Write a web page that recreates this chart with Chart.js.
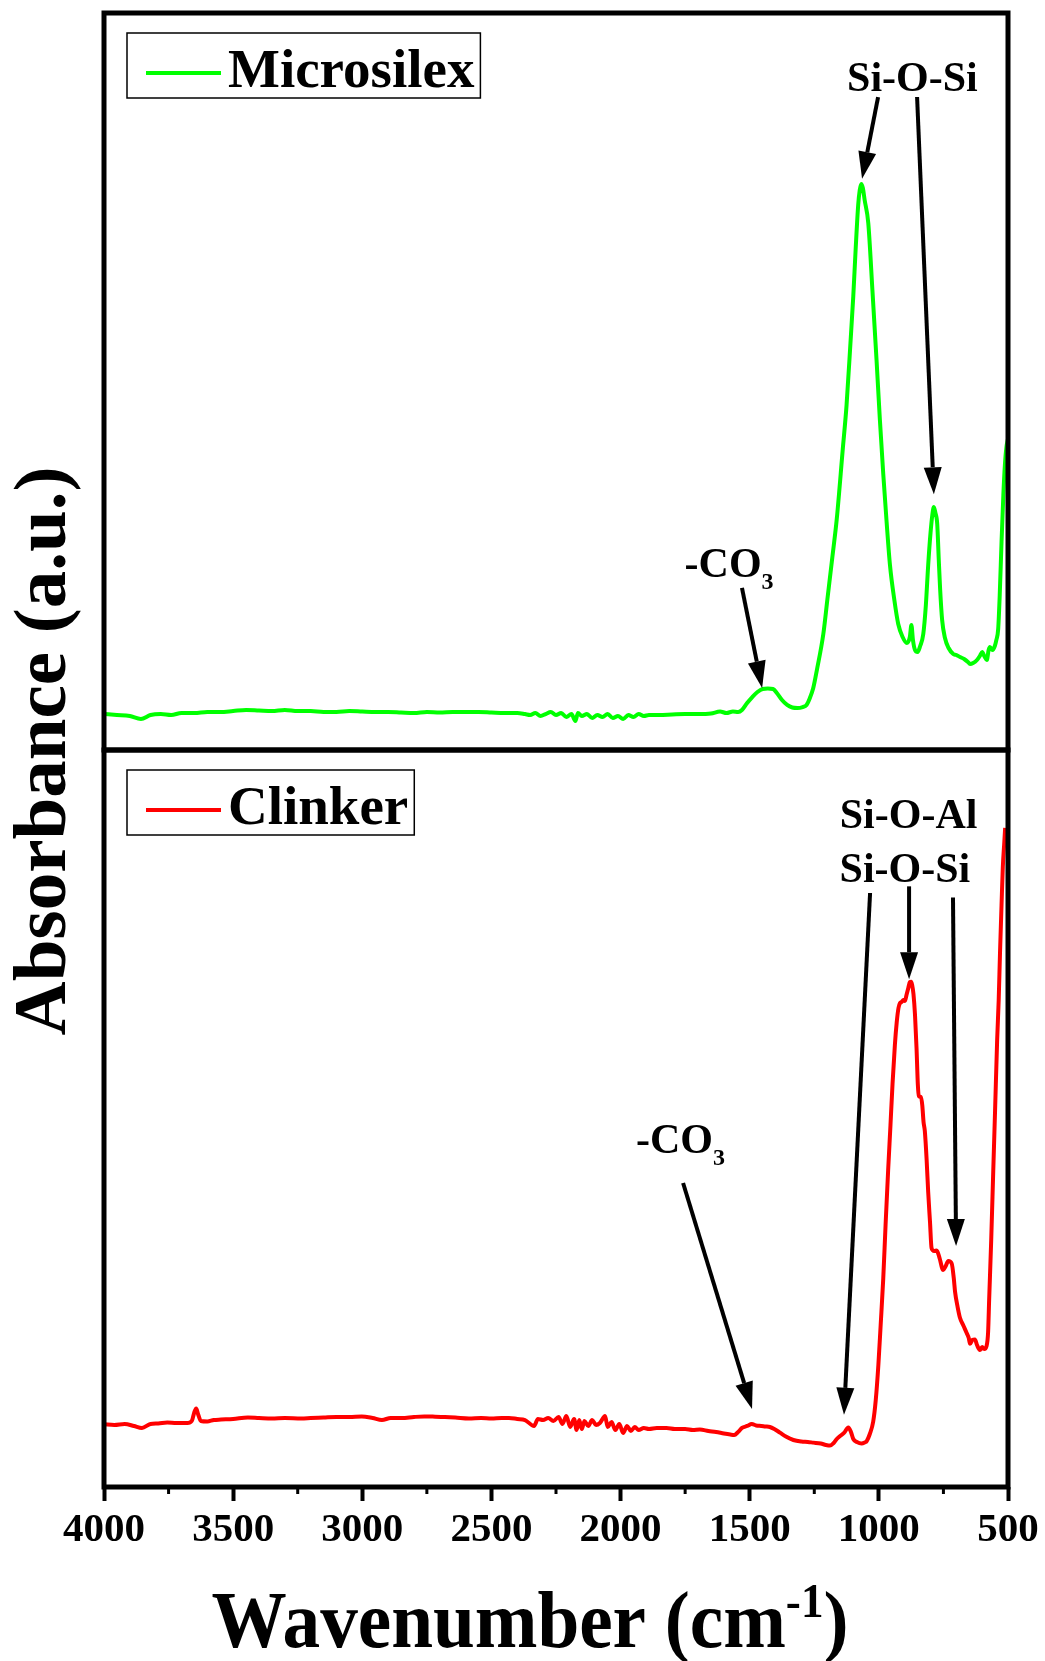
<!DOCTYPE html>
<html>
<head>
<meta charset="utf-8">
<title>FTIR spectra – Microsilex and Clinker</title>
<script src="https://cdn.jsdelivr.net/npm/chart.js@4/dist/chart.umd.min.js"></script>
<style>
  html, body { margin: 0; padding: 0; background: #ffffff; }
  #wrap { width: 1045px; height: 1661px; position: relative; }
  canvas { display: block; }
</style>
</head>
<body>
<div id="wrap"><canvas id="ftir" width="1045" height="1661"></canvas></div>
<script>
// ---------------- spectra (wavenumber in cm-1, absorbance in a.u.) ----------------
const microsilexWavenumber = [
  4000, 3950, 3900, 3857, 3820, 3780, 3740, 3700, 3650, 3600, 3550, 3500, 3450, 3400, 3350,
  3300, 3250, 3200, 3150, 3100, 3050, 3000, 2950, 2900, 2850, 2800, 2750, 2700, 2650, 2600,
  2550, 2500, 2450, 2400, 2370, 2350, 2330, 2310, 2290, 2270, 2250, 2230, 2210, 2190, 2175,
  2165, 2150, 2130, 2110, 2090, 2070, 2050, 2030, 2010, 1990, 1970, 1950, 1930, 1910, 1890,
  1850, 1800, 1750, 1700, 1650, 1615, 1590, 1565, 1545, 1530, 1510, 1490, 1470, 1450, 1430,
  1410, 1395, 1375, 1355, 1335, 1315, 1295, 1280, 1267, 1254, 1240, 1215, 1200, 1180, 1163,
  1140, 1125, 1110, 1099, 1090, 1080, 1074, 1068, 1062, 1055, 1041, 1025, 1009, 996, 983,
  970, 957, 940, 925, 908, 892, 880, 874, 868, 860, 850, 840, 828, 818, 809,
  800, 793, 787, 781, 774, 768, 763, 755, 744, 730, 712, 700, 686, 670, 655,
  647, 635, 620, 609, 600, 592, 582, 575, 570, 560, 551, 545, 538, 532, 525,
  518, 512, 506, 500
];
const microsilexAbsorbance = [
  0.0488, 0.0475, 0.0461, 0.0421, 0.0475, 0.0488, 0.0475, 0.0502, 0.0502, 0.0516, 0.0516, 0.0529, 0.0543, 0.0536, 0.0529,
  0.0543, 0.0529, 0.0529, 0.0516, 0.0516, 0.0529, 0.0522, 0.0516, 0.0516, 0.0509, 0.0502, 0.0516, 0.0509, 0.0516, 0.0516,
  0.0516, 0.0509, 0.0502, 0.0502, 0.0488, 0.0475, 0.0502, 0.0461, 0.0488, 0.0516, 0.0475, 0.0502, 0.0448, 0.0488, 0.0393,
  0.0502, 0.0461, 0.0488, 0.0434, 0.0475, 0.0448, 0.0488, 0.0434, 0.0461, 0.0421, 0.0475, 0.0448, 0.0488, 0.0461, 0.0475,
  0.0475, 0.0482, 0.0488, 0.0488, 0.0495, 0.0522, 0.0502, 0.0522, 0.0516, 0.0543, 0.0638, 0.0719, 0.0787, 0.0828, 0.0834,
  0.0828, 0.0773, 0.0678, 0.0611, 0.0577, 0.0570, 0.0583, 0.0611, 0.0706, 0.0841, 0.1085, 0.1574, 0.2022, 0.2619, 0.3134,
  0.4071, 0.4681, 0.5522, 0.6160, 0.6784, 0.7395, 0.7598, 0.7680, 0.7626, 0.7463, 0.7151, 0.6242, 0.5292, 0.4478, 0.3745,
  0.3094, 0.2510, 0.2035, 0.1710, 0.1533, 0.1452, 0.1533, 0.1696, 0.1493, 0.1357, 0.1330, 0.1411, 0.1574, 0.1967, 0.2510,
  0.2944, 0.3189, 0.3297, 0.3216, 0.3066, 0.2578, 0.2198, 0.1764, 0.1520, 0.1384, 0.1303, 0.1289, 0.1262, 0.1235, 0.1194,
  0.1167, 0.1180, 0.1221, 0.1275, 0.1330, 0.1275, 0.1221, 0.1357, 0.1398, 0.1357, 0.1411, 0.1493, 0.1642, 0.2103, 0.2822,
  0.3460, 0.3867, 0.4111, 0.4220
];

const clinkerWavenumber = [
  4000, 3960, 3920, 3884, 3853, 3820, 3790, 3755, 3720, 3677, 3660, 3650, 3643, 3636, 3625,
  3600, 3575, 3547, 3500, 3443, 3400, 3350, 3300, 3236, 3200, 3150, 3100, 3050, 3002, 2960,
  2924, 2890, 2847, 2800, 2760, 2718, 2680, 2640, 2587, 2540, 2500, 2460, 2432, 2400, 2370,
  2335, 2320, 2300, 2280, 2260, 2240, 2225, 2210, 2195, 2180, 2170, 2160, 2150, 2140, 2125,
  2110, 2095, 2080, 2060, 2050, 2035, 2020, 2005, 1990, 1975, 1960, 1945, 1930, 1910, 1890,
  1860, 1822, 1790, 1750, 1720, 1693, 1660, 1630, 1600, 1575, 1560, 1545, 1530, 1510, 1492,
  1475, 1455, 1440, 1422, 1405, 1383, 1360, 1331, 1300, 1275, 1254, 1225, 1205, 1189, 1175,
  1163, 1150, 1135, 1118, 1108, 1099, 1085, 1067, 1055, 1047, 1035, 1022, 1012, 1002, 993,
  983, 974, 964, 955, 947, 938, 931, 924, 918, 912, 905, 899, 893, 886, 880,
  875, 871, 866, 860, 854, 849, 845, 838, 832, 827, 822, 815, 809, 802, 796,
  786, 776, 765, 751, 741, 731, 718, 710, 705, 695, 686, 672, 660, 652, 647,
  638, 628, 620, 609, 600, 592, 583, 577, 573, 565, 557, 550, 542, 536, 531,
  525, 520, 515, 511
];
const clinkerAbsorbance = [
  0.0851, 0.0841, 0.0855, 0.0828, 0.0801, 0.0855, 0.0862, 0.0875, 0.0868, 0.0868, 0.0896, 0.1018, 0.1065, 0.0991, 0.0896,
  0.0889, 0.0909, 0.0915, 0.0923, 0.0943, 0.0936, 0.0929, 0.0936, 0.0931, 0.0936, 0.0943, 0.0950, 0.0950, 0.0957, 0.0936,
  0.0909, 0.0936, 0.0936, 0.0950, 0.0957, 0.0954, 0.0950, 0.0943, 0.0931, 0.0936, 0.0929, 0.0936, 0.0936, 0.0923, 0.0909,
  0.0828, 0.0923, 0.0909, 0.0936, 0.0896, 0.0950, 0.0855, 0.0963, 0.0814, 0.0923, 0.0773, 0.0909, 0.0787, 0.0896, 0.0828,
  0.0909, 0.0841, 0.0868, 0.0963, 0.0814, 0.0882, 0.0773, 0.0855, 0.0733, 0.0828, 0.0760, 0.0814, 0.0773, 0.0801, 0.0787,
  0.0801, 0.0801, 0.0787, 0.0787, 0.0773, 0.0779, 0.0760, 0.0746, 0.0726, 0.0712, 0.0706, 0.0746, 0.0801, 0.0828, 0.0855,
  0.0834, 0.0828, 0.0821, 0.0814, 0.0787, 0.0738, 0.0685, 0.0638, 0.0617, 0.0611, 0.0602, 0.0590, 0.0570, 0.0562, 0.0597,
  0.0651, 0.0692, 0.0733, 0.0809, 0.0746, 0.0651, 0.0611, 0.0590, 0.0604, 0.0624, 0.0719, 0.0885, 0.1180, 0.1650, 0.2198,
  0.2826, 0.3555, 0.4301, 0.4912, 0.5474, 0.5997, 0.6299, 0.6499, 0.6567, 0.6581, 0.6608, 0.6594, 0.6676, 0.6771, 0.6852,
  0.6857, 0.6811, 0.6689, 0.6404, 0.5943, 0.5455, 0.5305, 0.5292, 0.5183, 0.4953, 0.4830, 0.4437, 0.4003, 0.3596, 0.3243,
  0.3202, 0.3209, 0.3107, 0.2944, 0.2999, 0.3066, 0.3033, 0.2836, 0.2650, 0.2442, 0.2297, 0.2185, 0.2090, 0.2022, 0.1943,
  0.1995, 0.2003, 0.1927, 0.1859, 0.1900, 0.1872, 0.1913, 0.2103, 0.2537, 0.3351, 0.4301, 0.5115, 0.6065, 0.6608, 0.7239,
  0.7897, 0.8416, 0.8711, 0.8942
];

const wavenumberTicks = [4000, 3500, 3000, 2500, 2000, 1500, 1000, 500];
const wavenumberMinorTicks = [3750, 3250, 2750, 2250, 1750, 1250, 750];

// band assignments: label anchor (centre, baseline) and arrows, in wavenumber / a.u.
const microsilexBands = [
  { text: 'Si-O-Si', x: 870, y: 0.894 }
];
const microsilexCarbonate = [
  { text: '-CO', sub: '3', x: 1580, y: 0.235 }
];
const microsilexArrows = [
  { x1: 1003, y1: 0.886, x2: 1065, y2: 0.775 },
  { x1: 852, y1: 0.886, x2: 787, y2: 0.347 },
  { x1: 1530, y1: 0.220, x2: 1452, y2: 0.084 }
];
const clinkerBands = [
  { text: 'Si-O-Al', x: 885, y: 0.894 },
  { text: 'Si-O-Si', x: 899, y: 0.821 }
];
const clinkerCarbonate = [
  { text: '-CO', sub: '3', x: 1768, y: 0.453 }
];
const clinkerArrows = [
  { x1: 1034, y1: 0.806, x2: 1135, y2: 0.098 },
  { x1: 883, y1: 0.815, x2: 883, y2: 0.689 },
  { x1: 713, y1: 0.800, x2: 701, y2: 0.327 },
  { x1: 1758, y1: 0.4125, x2: 1491, y2: 0.106 }
];

// ---------------- drawing ----------------
const SERIF = "'Liberation Serif', 'Times New Roman', Times, serif";

function toPoints(xs, ys) {
  return xs.map((x, i) => ({ x: x, y: ys[i] }));
}

function drawArrow(ctx, x1, y1, x2, y2) {
  const headLen = 27, headHalf = 9;
  const ang = Math.atan2(y2 - y1, x2 - x1);
  const bx = x2 - headLen * Math.cos(ang);
  const by = y2 - headLen * Math.sin(ang);
  ctx.beginPath();
  ctx.moveTo(x1, y1);
  ctx.lineTo(bx, by);
  ctx.lineWidth = 4;
  ctx.lineCap = 'butt';
  ctx.stroke();
  ctx.beginPath();
  ctx.moveTo(x2, y2);
  ctx.lineTo(bx + headHalf * Math.sin(ang), by - headHalf * Math.cos(ang));
  ctx.lineTo(bx - headHalf * Math.sin(ang), by + headHalf * Math.cos(ang));
  ctx.closePath();
  ctx.fill();
}

function drawLabel(ctx, lbl, xs, ys) {
  const cx = xs.getPixelForValue(lbl.x);
  const by = ys.getPixelForValue(lbl.y);
  const mainFont = 'bold 42px ' + SERIF;
  const subFont = 'bold 24px ' + SERIF;
  ctx.font = mainFont;
  const wMain = ctx.measureText(lbl.text).width;
  let wSub = 0;
  if (lbl.sub) { ctx.font = subFont; wSub = ctx.measureText(lbl.sub).width; }
  const left = cx - (wMain + wSub) / 2;
  ctx.textAlign = 'left';
  ctx.textBaseline = 'alphabetic';
  ctx.font = mainFont;
  ctx.fillText(lbl.text, left, by);
  if (lbl.sub) {
    ctx.font = subFont;
    ctx.fillText(lbl.sub, left + wMain, by + 12);
  }
}

const panelDecor = {
  id: 'panelDecor',
  afterDraw(chart) {
    const { ctx, chartArea: area, scales } = chart;
    const xs = scales.x;
    ctx.save();
    ctx.strokeStyle = '#000';
    ctx.fillStyle = '#000';

    // minor ticks on the wavenumber axis
    ctx.lineWidth = 3;
    wavenumberMinorTicks.forEach(v => {
      const px = xs.getPixelForValue(v);
      ctx.beginPath();
      ctx.moveTo(px, area.bottom);
      ctx.lineTo(px, area.bottom + 7);
      ctx.stroke();
    });

    // panel frames
    ['microsilexY', 'clinkerY'].forEach(id => {
      const s = scales[id];
      ctx.lineWidth = 5;
      ctx.strokeRect(area.left, s.top, area.right - area.left, s.bottom - s.top);
    });

    // legends, one per panel
    chart.data.datasets.forEach(ds => {
      const s = scales[ds.yAxisID];
      const boxL = area.left + 23, boxT = s.top + 20, boxH = 65;
      ctx.font = 'bold 55px ' + SERIF;
      const tw = ctx.measureText(ds.label).width;
      const boxW = 101 + tw + 6;
      ctx.fillStyle = '#fff';
      ctx.fillRect(boxL, boxT, boxW, boxH);
      ctx.lineWidth = 1.5;
      ctx.strokeStyle = '#000';
      ctx.strokeRect(boxL, boxT, boxW, boxH);
      ctx.beginPath();
      ctx.moveTo(boxL + 19, boxT + 40);
      ctx.lineTo(boxL + 94, boxT + 40);
      ctx.strokeStyle = ds.borderColor;
      ctx.lineWidth = 4;
      ctx.stroke();
      ctx.fillStyle = '#000';
      ctx.textAlign = 'left';
      ctx.textBaseline = 'alphabetic';
      ctx.fillText(ds.label, boxL + 101, boxT + 54);
    });

    // band assignments
    ctx.strokeStyle = '#000';
    ctx.fillStyle = '#000';
    const yTop = scales.microsilexY, yBot = scales.clinkerY;
    microsilexBands.concat(microsilexCarbonate).forEach(l => drawLabel(ctx, l, xs, yTop));
    clinkerBands.concat(clinkerCarbonate).forEach(l => drawLabel(ctx, l, xs, yBot));
    microsilexArrows.forEach(a => drawArrow(ctx, xs.getPixelForValue(a.x1), yTop.getPixelForValue(a.y1),
                                             xs.getPixelForValue(a.x2), yTop.getPixelForValue(a.y2)));
    clinkerArrows.forEach(a => drawArrow(ctx, xs.getPixelForValue(a.x1), yBot.getPixelForValue(a.y1),
                                          xs.getPixelForValue(a.x2), yBot.getPixelForValue(a.y2)));

    // y axis title (rotated)
    ctx.save();
    ctx.translate(65, (yTop.top + yBot.bottom) / 2 + 1);
    ctx.rotate(-Math.PI / 2);
    ctx.font = 'bold 75px ' + SERIF;
    ctx.textAlign = 'center';
    ctx.textBaseline = 'alphabetic';
    ctx.fillText('Absorbance (a.u.)', 0, 0);
    ctx.restore();

    // x axis title with superscript
    const parts = [
      { t: 'Wavenumber (cm', font: 'bold 80px ' + SERIF, dy: 0 },
      { t: '-1', font: 'bold 48px ' + SERIF, dy: -30 },
      { t: ')', font: 'bold 80px ' + SERIF, dy: 0 }
    ];
    let total = 0;
    parts.forEach(p => { ctx.font = p.font; p.w = ctx.measureText(p.t).width; total += p.w; });
    const squeeze = 0.94;
    ctx.save();
    ctx.translate(530, 1647);
    ctx.scale(squeeze, 1);
    let cx = -total / 2;
    ctx.textAlign = 'left';
    parts.forEach(p => { ctx.font = p.font; ctx.fillText(p.t, cx, p.dy); cx += p.w; });
    ctx.restore();

    ctx.restore();
  }
};

Chart.defaults.font.family = SERIF;
Chart.defaults.color = '#000';

new Chart(document.getElementById('ftir'), {
  type: 'line',
  data: {
    datasets: [
      {
        label: 'Microsilex',
        data: toPoints(microsilexWavenumber, microsilexAbsorbance),
        yAxisID: 'microsilexY',
        borderColor: '#00ff00',
        borderWidth: 4,
        pointRadius: 0,
        cubicInterpolationMode: 'monotone',
        borderJoinStyle: 'round',
        fill: false
      },
      {
        label: 'Clinker',
        data: toPoints(clinkerWavenumber, clinkerAbsorbance),
        yAxisID: 'clinkerY',
        borderColor: '#ff0000',
        borderWidth: 4,
        pointRadius: 0,
        cubicInterpolationMode: 'monotone',
        borderJoinStyle: 'round',
        fill: false
      }
    ]
  },
  options: {
    responsive: false,
    animation: false,
    devicePixelRatio: 1,
    layout: { padding: { left: 104, right: 37, top: 13, bottom: 0 } },
    plugins: { legend: { display: false }, tooltip: { enabled: false } },
    scales: {
      x: {
        type: 'linear',
        position: 'bottom',
        min: 500,
        max: 4000,
        reverse: true,
        afterBuildTicks: s => { s.ticks = wavenumberTicks.map(v => ({ value: v })); },
        afterFit: s => { s.height = 174; },
        ticks: {
          callback: v => String(v),
          font: { size: 41, weight: 'bold', family: SERIF },
          color: '#000',
          padding: 5,
          maxRotation: 0,
          autoSkip: false
        },
        grid: { drawOnChartArea: false, drawTicks: true, tickLength: 14, tickWidth: 4, tickColor: '#000' },
        border: { display: false }
      },
      clinkerY: {
        type: 'linear',
        position: 'left',
        stack: 'panels',
        stackWeight: 1,
        min: 0,
        max: 1,
        afterFit: s => { s.width = 0; },
        ticks: { display: false },
        grid: { display: false, drawTicks: false },
        border: { display: false }
      },
      microsilexY: {
        type: 'linear',
        position: 'left',
        stack: 'panels',
        stackWeight: 1,
        min: 0,
        max: 1,
        afterFit: s => { s.width = 0; },
        ticks: { display: false },
        grid: { display: false, drawTicks: false },
        border: { display: false }
      }
    }
  },
  plugins: [panelDecor]
});
</script>
</body>
</html>
